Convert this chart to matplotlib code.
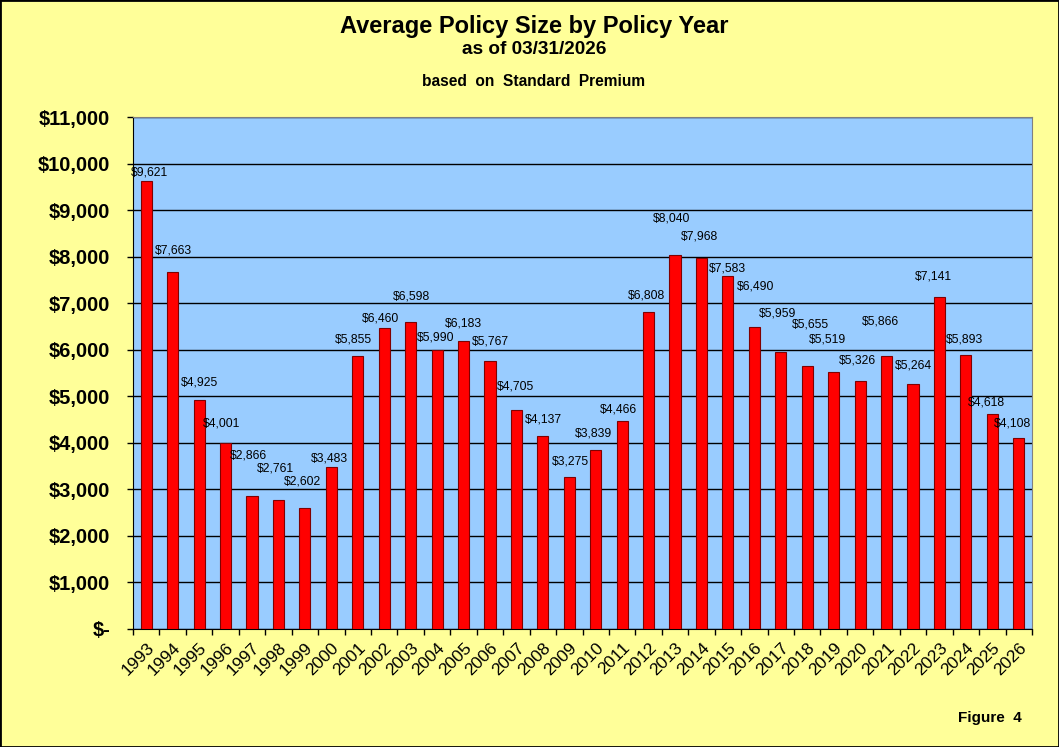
import matplotlib
matplotlib.use("Agg")
import matplotlib.pyplot as plt
from matplotlib.ticker import FuncFormatter, FixedLocator
import numpy as np

plt.rcParams['font.family'] = ['Liberation Sans', 'DejaVu Sans']

# data
years = [str(y) for y in range(1993, 2027)]
avg_size = [9621, 7663, 4925, 4001, 2866, 2761, 2602, 3483, 5855, 6460,
            6598, 5990, 6183, 5767, 4705, 4137, 3275, 3839, 4466, 6808,
            8040, 7968, 7583, 6490, 5959, 5655, 5519, 5326, 5866, 5264,
            7141, 5893, 4618, 4108]

# label nudges (pixels: right, up) from bar top, as placed in the original
label_nudge = [(3, 9), (1, 22), (0, 17), (-3.5, 19), (-4, 40), (-3, 31.5),
               (-2, 26), (-2, 8), (-4, 16.5), (-3.5, 10), (1, 25), (-1, 13),
               (0, 18), (0.5, 19), (-1, 24), (0.7, 17), (1, 14.6), (-2, 17),
               (-3.5, 12), (-2, 17), (-3, 36.5), (-2, 21.4), (0, 7.7),
               (1, 40), (-3.7, 38), (3, 41), (-6.6, 33), (-3, 20.4),
               (-6.5, 34), (0, 18.3), (-6.4, 20), (-1.3, 15.4), (-6, 11.7),
               (-6.7, 14.5)]

fig = plt.figure(figsize=(10.59, 7.47), dpi=100, facecolor='#FFFF99')
ax = fig.add_axes([133/1059, 1 - 629/747, (1032 - 133)/1059, (629 - 117)/747])
ax.set_facecolor('#99CCFF')

x = np.arange(len(years))
ax.bar(x, avg_size, width=0.42, color='#FF0000', edgecolor='#800000',
       linewidth=0.8, zorder=3)

for xi, v, (dx, dy) in zip(x, avg_size, label_nudge):
    ax.annotate('${:,}'.format(v), (xi, v), xytext=(dx, dy),
                textcoords='offset pixels', ha='center', va='center',
                fontsize=8.7, zorder=4)

ax.set_xlim(-0.5, len(years) - 0.5)
ax.set_ylim(0, 11000)
ax.set_yticks(np.arange(0, 11001, 1000))
ax.yaxis.set_major_formatter(FuncFormatter(
    lambda v, p: '$-' if v == 0 else '${:,.0f}'.format(v)))
ax.grid(axis='y', color='black', linewidth=1, zorder=1)

ax.set_xticks(x)
ax.set_xticklabels(years, rotation=45, ha='right', va='top',
                   rotation_mode='anchor', fontsize=12.5)
ax.tick_params(axis='x', length=0, pad=8)
ax.xaxis.set_minor_locator(FixedLocator(np.arange(-0.5, len(years), 1)))
ax.tick_params(axis='x', which='minor', length=4.5, width=1)
ax.tick_params(axis='y', length=4.5, width=1, pad=12)
for lab in ax.get_yticklabels():
    lab.set_fontsize(14.5)
    lab.set_fontweight('bold')

for side in ['top', 'right']:
    ax.spines[side].set_color('#808080')
ax.spines['left'].set_color('black')
ax.spines['bottom'].set_color('black')

cx = 534 / 1059
fig.text(cx, 1 - 27/747, 'Average Policy Size by Policy Year', ha='center',
         va='center', fontsize=17, fontweight='bold')
fig.text(cx, 1 - 50/747, 'as of 03/31/2026', ha='center', va='center',
         fontsize=13.7, fontweight='bold')
fig.text(cx, 1 - 81/747, 'based  on  Standard  Premium', ha='center',
         va='center', fontsize=11.2, fontweight='bold')
fig.text(990/1059, 1 - 718/747, 'Figure  4', ha='center', va='center',
         fontsize=11, fontweight='bold')

fig.patches.append(plt.Rectangle((0, 0), 1, 1, transform=fig.transFigure,
                                 fill=False, edgecolor='black', linewidth=2))

fig.savefig('out.png', dpi=100, facecolor=fig.get_facecolor())
